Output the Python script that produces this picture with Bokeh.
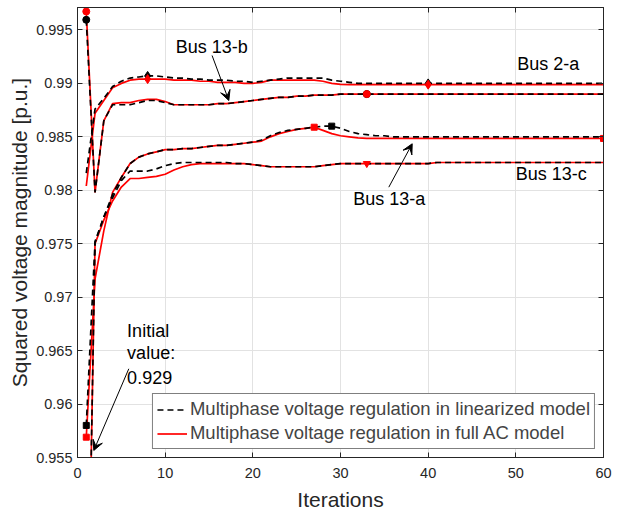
from bokeh.plotting import figure
from bokeh.models import (Range1d, FixedTicker, LinearAxis, Legend, LegendItem,
                          Label, Arrow, VeeHead)
from bokeh.embed import file_html
from bokeh.resources import INLINE

# ---------------- data ----------------
iterations = list(range(1, 61))

bus2a_lin = [0.9816, 0.9876, 0.9886, 0.9897, 0.9902, 0.9905, 0.9906, 0.9907, 0.9907, 0.9906,
             0.9905, 0.9905, 0.9904, 0.9904, 0.9903, 0.9903, 0.9903, 0.9902, 0.9902, 0.9901,
             0.9902, 0.9903, 0.9904, 0.9905, 0.9905, 0.9905, 0.9905, 0.9905, 0.9903, 0.9902,
             0.9901] + [0.9900] * 29
bus2a_ac = [0.9804, 0.9872, 0.9884, 0.9896, 0.9900, 0.9903, 0.9904, 0.9904, 0.9904, 0.9904,
            0.9903, 0.9903, 0.9903, 0.9902, 0.9902, 0.9901, 0.9901, 0.9901, 0.9900, 0.9900,
            0.9901, 0.9903, 0.9903, 0.9903, 0.9903, 0.9903, 0.9903, 0.9902, 0.9900, 0.9899] + [0.98988] * 30

bus13b_lin = [0.99595, 0.9798, 0.9865, 0.9880, 0.9880, 0.9880, 0.9882, 0.9884, 0.9884, 0.9882,
              0.9880, 0.9880, 0.9880, 0.9880, 0.9880, 0.9881, 0.9881, 0.9882, 0.9883, 0.9884,
              0.9885, 0.9886, 0.9887, 0.9887, 0.9888, 0.9888, 0.9889, 0.9889, 0.9889] + [0.9890] * 31
bus13b_ac = [0.99673, 0.9798, 0.9865, 0.9881, 0.9882, 0.9882, 0.9884, 0.9885, 0.9885, 0.9883,
             0.9880, 0.9880, 0.9880, 0.9880, 0.9880, 0.9881, 0.9881, 0.9882, 0.9883, 0.9884,
             0.9885, 0.9886, 0.9887, 0.9887, 0.9888, 0.9888, 0.9889, 0.9889, 0.9889] + [0.9890] * 31

bus13a_lin = [0.9580, 0.9751, 0.9775, 0.9796, 0.9812, 0.9825, 0.9831, 0.9834, 0.9836, 0.9838,
              0.9838, 0.9839, 0.9839, 0.9840, 0.9841, 0.9842, 0.9842, 0.9843, 0.9844, 0.9845,
              0.9847, 0.9851, 0.9854, 0.9856, 0.9857, 0.9858, 0.9859, 0.9860, 0.9860, 0.9858,
              0.9855, 0.9853, 0.9852, 0.9851, 0.9851] + [0.9850] * 25
bus13a_ac = [0.9569, 0.9717, 0.9762, 0.9798, 0.9812, 0.9825, 0.9831, 0.9834, 0.9836, 0.9838,
             0.9838, 0.9839, 0.9839, 0.9840, 0.9841, 0.9842, 0.9842, 0.9843, 0.9844, 0.9845,
             0.9846, 0.9850, 0.9853, 0.9855, 0.9857, 0.9858, 0.9859, 0.9856, 0.9853, 0.9851,
             0.9850, 0.9849] + [0.98485] * 28

bus13c_lin = [0.929, 0.9752, 0.9775, 0.9793, 0.9809, 0.9818, 0.9818, 0.9818, 0.9820, 0.9823,
              0.9825, 0.9826, 0.9826, 0.9826, 0.9826, 0.9826, 0.9826, 0.9825, 0.9825, 0.9824,
              0.9823, 0.9822, 0.9822, 0.9822, 0.9822, 0.9822, 0.9822, 0.9823, 0.9824] + [0.9825] * 11 + [0.9826] * 20
bus13c_ac = [0.929, 0.9750, 0.9772, 0.9790, 0.9803, 0.9811, 0.9811, 0.9812, 0.9813, 0.9815,
             0.9819, 0.9822, 0.9824, 0.9825, 0.9825, 0.9825, 0.9825, 0.9825, 0.9825, 0.9824,
             0.9823, 0.9822, 0.9822, 0.9822, 0.9822, 0.9822, 0.9822, 0.9823, 0.9824] + [0.9825] * 11 + [0.9826] * 20

# marker positions (iteration numbers)
bus2a_lin_marks = [8, 40]
bus2a_ac_marks = [8, 40]
bus13b_lin_marks = [1, 33]
bus13b_ac_marks = [1, 33]
bus13a_lin_marks = [1, 29]
bus13a_ac_marks = [1, 27, 60]
bus13c_lin_marks = [1]
bus13c_ac_marks = [1, 33]

x_ticks = [0, 10, 20, 30, 40, 50, 60]
y_ticks = [0.955, 0.96, 0.965, 0.97, 0.975, 0.98, 0.985, 0.99, 0.995]
y_tick_labels = ["0.955", "0.96", "0.965", "0.97", "0.975", "0.98", "0.985", "0.99", "0.995"]

legend_lin = "Multiphase voltage regulation in linearized model"
legend_ac = "Multiphase voltage regulation in full AC model"
x_label = "Iterations"
y_label = "Squared voltage magnitude [p.u.]"

# ---------------- figure ----------------
FONT = "Liberation Sans"
DARK = "#262626"

p = figure(width=618, height=516, output_backend="svg", toolbar_location=None,
           x_range=Range1d(0, 60), y_range=Range1d(0.955, 0.9971),
           min_border_left=77, min_border_right=15, min_border_top=7, min_border_bottom=59)
p.background_fill_color = "white"
p.border_fill_color = "white"
p.outline_line_color = DARK
p.outline_line_width = 1

p.xaxis.ticker = FixedTicker(ticks=x_ticks)
p.yaxis.ticker = FixedTicker(ticks=y_ticks)
p.yaxis.major_label_overrides = {t: s for t, s in zip(y_ticks, y_tick_labels)}
p.xaxis.axis_label = x_label
p.yaxis.axis_label = y_label

for ax in (p.xaxis[0], p.yaxis[0]):
    ax.axis_line_color = DARK
    ax.major_tick_line_color = DARK
    ax.major_tick_in = 5
    ax.major_tick_out = 0
    ax.minor_tick_line_color = None
    ax.major_label_text_font = FONT
    ax.major_label_text_font_size = "14.5px"
    ax.major_label_text_color = DARK
    ax.axis_label_text_font = FONT
    ax.axis_label_text_font_size = "21px"
    ax.axis_label_text_font_style = "normal"
    ax.axis_label_text_color = DARK

p.xaxis.major_label_standoff = 10
p.xaxis.axis_label_standoff = 7
p.yaxis.major_label_standoff = 5
p.yaxis.axis_label_standoff = 2

# mirrored tick marks (box on)
for loc in ("right", "above"):
    tk = y_ticks if loc == "right" else x_ticks
    ax = LinearAxis(ticker=FixedTicker(ticks=tk),
                    major_label_text_font_size="0px", major_label_standoff=0,
                    major_tick_in=5, major_tick_out=0, minor_tick_line_color=None,
                    axis_line_color=DARK, major_tick_line_color=DARK)
    ax.major_label_overrides = {t: "" for t in tk}
    p.add_layout(ax, loc)

p.grid.grid_line_color = "#e2e2e2"
p.grid.grid_line_width = 1

# ---------------- lines ----------------
ac_series = [bus2a_ac, bus13b_ac, bus13a_ac, bus13c_ac]
lin_series = [bus2a_lin, bus13b_lin, bus13a_lin, bus13c_lin]

r_ac = None
for s in ac_series:
    r = p.line(iterations, s, line_color="red", line_width=1.7)
    r_ac = r_ac or r
r_lin = None
for s in lin_series:
    r = p.line(iterations, s, line_color="black", line_width=1.7, line_dash="6 4")
    r_lin = r_lin or r

def marks(series, idx):
    return [i for i in idx], [series[i - 1] for i in idx]

marker_specs = [
    (bus2a_lin, bus2a_lin_marks, "diamond", "black", 9),
    (bus13b_lin, bus13b_lin_marks, "circle", "black", 7),
    (bus13a_lin, bus13a_lin_marks, "square", "black", 6),
    (bus13c_lin, bus13c_lin_marks, "inverted_triangle", "black", 7),
    (bus2a_ac, bus2a_ac_marks, "diamond", "red", 9),
    (bus13b_ac, bus13b_ac_marks, "circle", "red", 7),
    (bus13a_ac, bus13a_ac_marks, "square", "red", 6),
    (bus13c_ac, bus13c_ac_marks, "inverted_triangle", "red", 7),
]
for series, idx, mk, col, sz in marker_specs:
    mx, my = marks(series, idx)
    p.scatter(mx, my, marker=mk, size=sz, fill_color=col, line_color=col)

# ---------------- annotations ----------------
def label(x, y, text):
    p.add_layout(Label(x=x, y=y, text=text, text_font=FONT, text_font_size="18px",
                       text_baseline="middle", text_align="left", text_color="black"))

label(11.2, 0.99336, "Bus 13-b")
label(50.15, 0.99183, "Bus 2-a")
label(50.0, 0.98154, "Bus 13-c")
label(31.45, 0.97923, "Bus 13-a")
label(5.66, 0.96688, "Initial")
label(5.66, 0.96473, "value:")
label(5.66, 0.96249, "0.929")

def arrow(x0, y0, x1, y1):
    p.add_layout(Arrow(x_start=x0, y_start=y0, x_end=x1, y_end=y1, line_color="black",
                       line_width=1,
                       end=VeeHead(size=10, fill_color="black", line_color="black", line_width=1)))

arrow(15.35, 0.99261, 17.26, 0.98840)
arrow(35.51, 0.98029, 38.18, 0.98435)
arrow(5.85, 0.96330, 1.86, 0.95566)

# ---------------- legend ----------------
legend = Legend(items=[LegendItem(label=legend_lin, renderers=[r_lin]),
                       LegendItem(label=legend_ac, renderers=[r_ac])],
                location="bottom_right", margin=8, padding=4, spacing=2,
                glyph_width=30, glyph_height=21, label_height=21, label_standoff=3,
                label_text_font=FONT, label_text_font_size="18.5px",
                border_line_color="black", border_line_width=1,
                background_fill_color="white", background_fill_alpha=1)
p.add_layout(legend)

open("out.html", "w").write(file_html(p, INLINE))
